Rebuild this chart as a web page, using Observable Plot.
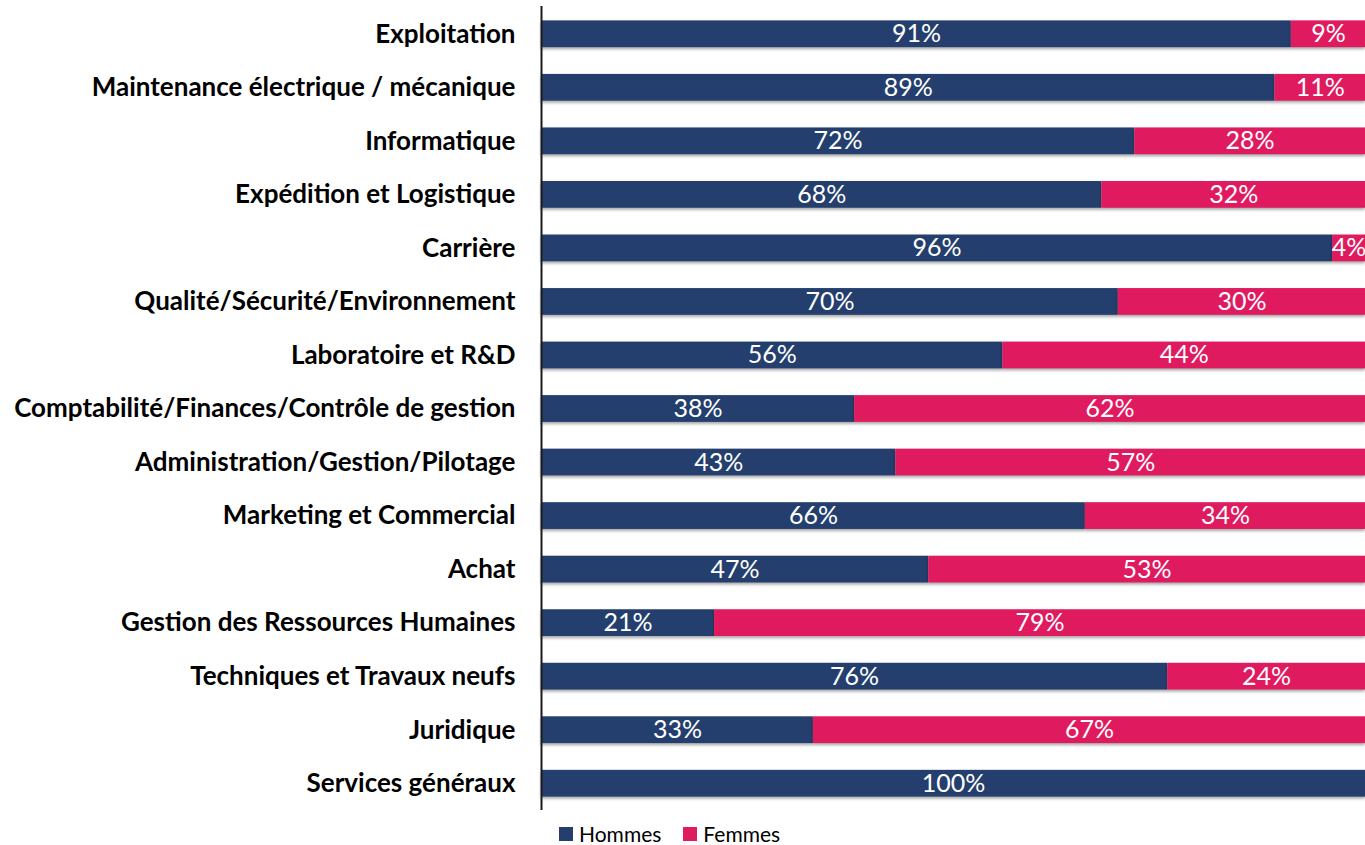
<!DOCTYPE html>
<html>
<head>
<meta charset="utf-8">
<script src="https://cdn.jsdelivr.net/npm/d3@7"></script>
<script src="https://cdn.jsdelivr.net/npm/@observablehq/plot@0.6"></script>
<style>
  html, body { margin: 0; background: #fff; font-family: Lato, "Open Sans", sans-serif; }
  body { position: relative; width: 1365px; height: 845px; }
  #chart svg { display: block; }
  .legend { position: absolute; left: 559px; top: 823px; height: 22px; display: flex; align-items: center; font-size: 21px; line-height: 22px; color: #000; white-space: nowrap; }
  .legend .item { display: flex; align-items: center; margin-right: 22px; }
  .legend .sw { width: 14px; height: 14px; margin-right: 6px; }
  .bars rect { filter: drop-shadow(0px 2px 1.5px rgba(0,0,0,0.35)); }
</style>
</head>
<body>
<div id="chart"></div>
<script>
const categories = [
  "Exploitation",
  "Maintenance électrique / mécanique",
  "Informatique",
  "Expédition et Logistique",
  "Carrière",
  "Qualité/Sécurité/Environnement",
  "Laboratoire et R&D",
  "Comptabilité/Finances/Contrôle de gestion",
  "Administration/Gestion/Pilotage",
  "Marketing et Commercial",
  "Achat",
  "Gestion des Ressources Humaines",
  "Techniques et Travaux neufs",
  "Juridique",
  "Services généraux"
];
const hommes = [91, 89, 72, 68, 96, 70, 56, 38, 43, 66, 47, 21, 76, 33, 100];
const femmes = [9, 11, 28, 32, 4, 30, 44, 62, 57, 34, 53, 79, 24, 67, 0];
const seriesNames = ["Hommes", "Femmes"];
const seriesColors = ["#243F6D", "#E01A5F"];

const data = [];
categories.forEach((c, i) => {
  data.push({cat: c, serie: "Hommes", value: hommes[i]});
  data.push({cat: c, serie: "Femmes", value: femmes[i]});
});
const shown = data.filter(d => d.value > 0);

const chart = Plot.plot({
  width: 1365,
  height: 812,
  marginLeft: 541,
  marginRight: 0,
  marginTop: 7,
  marginBottom: 2,
  style: {fontFamily: "Lato, 'Open Sans', sans-serif", background: "#fff"},
  x: {domain: [0, 100], axis: null},
  y: {domain: categories, paddingInner: 0.5, paddingOuter: 0.25, round: false, label: null},
  color: {domain: seriesNames, range: seriesColors},
  marks: [
    Plot.barX(shown, Plot.stackX({x: "value", y: "cat", fill: "serie", order: seriesNames, className: "bars"})),
    Plot.text(shown, Plot.stackX({x: "value", y: "cat", z: "serie", order: seriesNames, text: d => d.value + "%", fill: "white", fontSize: 25})),
    Plot.axisY({tickSize: 0, tickPadding: 26, fontSize: 26, fontWeight: "bold", fill: "#000", label: null}),
    Plot.ruleX([0], {stroke: "#1a1a1a", strokeWidth: 2, insetTop: -1})
  ]
});
document.getElementById("chart").appendChild(chart);

const legend = document.createElement("div");
legend.className = "legend";
seriesNames.forEach((n, i) => {
  const it = document.createElement("div");
  it.className = "item";
  const sw = document.createElement("div");
  sw.className = "sw";
  sw.style.background = seriesColors[i];
  const t = document.createElement("span");
  t.textContent = n;
  it.appendChild(sw); it.appendChild(t);
  legend.appendChild(it);
});
document.body.appendChild(legend);
</script>
</body>
</html>
